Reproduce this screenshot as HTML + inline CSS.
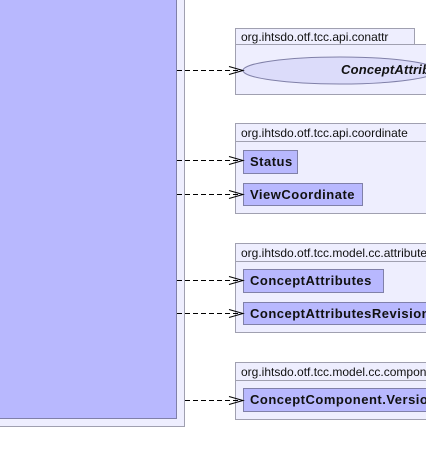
<!DOCTYPE html>
<html><head><style>
html,body{margin:0;width:426px;height:465px;overflow:hidden}
body{background:#fff;position:relative;font-family:"Liberation Sans",sans-serif}
div{position:absolute;box-sizing:border-box}
.pk{background:#eeeefe;border:1px solid #a0a0b0;border-right:none}
.tab{background:#eeeefe;border:1px solid #a0a0b0;font-size:12px;color:#111;padding:1px 0 0 5px;line-height:15px;white-space:nowrap;overflow:hidden}
.cl{background:#b8b8fe;border:1px solid #8080a8;font-weight:bold;font-size:13px;color:#111;padding:0 6px;white-space:nowrap;letter-spacing:0.5px;overflow:hidden}
.open{border-right:none}
</style></head><body>
<div style="left:0;top:0;width:185px;height:427px;background:#eeeefe;border:1px solid #a0a0b0;border-left:none;border-top:none"></div>
<div style="left:0;top:0;width:177px;height:419px;background:#b8b8fe;border:1px solid #8080a8;border-left:none;border-top:none"></div>

<div class="pk" style="left:235px;top:44px;width:191px;height:51px"></div>
<div class="tab" style="left:235px;top:28px;width:180px;height:17px">org.ihtsdo.otf.tcc.api.conattr</div>
<svg style="position:absolute;left:0;top:0" width="426" height="465">
<ellipse cx="340" cy="70.5" rx="97" ry="13.5" fill="#dcdcfa" stroke="#8080a8"/>
</svg>
<div style="left:341px;top:62px;width:85px;overflow:hidden;white-space:nowrap;font-size:13px;font-weight:bold;font-style:italic;letter-spacing:0.2px;color:#111">ConceptAttributes</div>

<div class="pk" style="left:235px;top:141px;width:191px;height:73px"></div>
<div class="tab open" style="left:235px;top:123px;width:191px;height:19px;padding-top:2px">org.ihtsdo.otf.tcc.api.coordinate</div>
<div class="cl" style="left:243px;top:150px;width:55px;height:24px;line-height:22px">Status</div>
<div class="cl" style="left:243px;top:183px;width:120px;height:23px;line-height:21px">ViewCoordinate</div>

<div class="pk" style="left:235px;top:261px;width:191px;height:72px"></div>
<div class="tab open" style="left:235px;top:243px;width:191px;height:19px;padding-top:2px">org.ihtsdo.otf.tcc.model.cc.attributes</div>
<div class="cl" style="left:243px;top:269px;width:141px;height:24px;line-height:22px">ConceptAttributes</div>
<div class="cl open" style="left:243px;top:302px;width:183px;height:23px;line-height:21px">ConceptAttributesRevision</div>

<div class="pk" style="left:235px;top:380px;width:191px;height:40px"></div>
<div class="tab open" style="left:235px;top:362px;width:191px;height:19px;padding-top:2px">org.ihtsdo.otf.tcc.model.cc.component</div>
<div class="cl open" style="left:243px;top:388px;width:183px;height:24px;line-height:22px">ConceptComponent.Version</div>

<svg style="position:absolute;left:0;top:0" width="426" height="465" fill="none" stroke="#000">
<g stroke-dasharray="5,3">
<path d="M177 70.5H243M177 160.5H243M177 194.5H243M177 280.5H243M177 313.5H243M185 400.5H243"/>
</g>
<path d="M229 66.5L243 70.5L229 74.5M229 156.5L243 160.5L229 164.5M229 190.5L243 194.5L229 198.5M229 276.5L243 280.5L229 284.5M229 309.5L243 313.5L229 317.5M229 396.5L243 400.5L229 404.5"/>
</svg>
</body></html>
